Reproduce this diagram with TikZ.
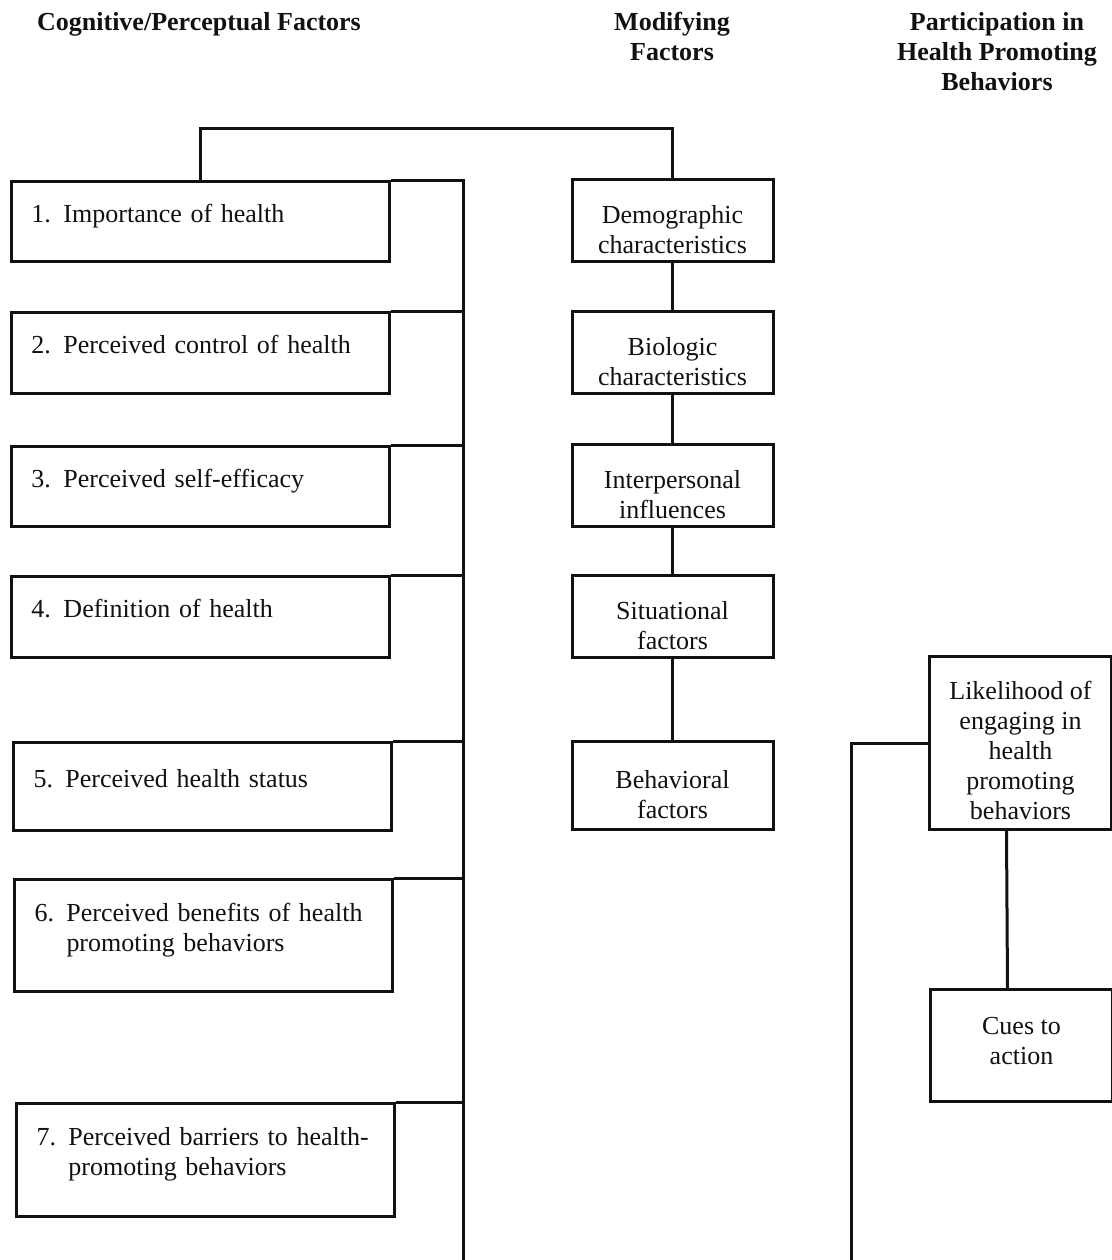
\documentclass[tikz,border=0pt]{standalone}
\usepackage{fontspec}
\setmainfont{Liberation Serif}
\usetikzlibrary{positioning, calc}
\definecolor{ink}{HTML}{111111}
\tikzset{
  every node/.style = {font=\fontsize{13}{15}\selectfont, text=ink},
  hpbase/.style  = {draw=ink, line width=1.5pt, fill=white, inner ysep=0pt},
  hpcog/.style   = {hpbase, anchor=north west, minimum width=189pt, text width=169pt,
                    inner xsep=10pt, align=left},
  hpmod/.style   = {hpbase, anchor=north, minimum width=100.5pt, minimum height=41pt,
                    inner xsep=0pt, align=center},
  hpout/.style   = {hpbase, anchor=north west, minimum width=91pt, inner xsep=0pt, align=center},
  hphead/.style  = {font=\fontsize{13}{15}\selectfont\bfseries, anchor=north, align=center,
                    inner sep=0pt},
  hplink/.style  = {draw=ink, line width=1.5pt},
}
\newcommand{\hpnum}[2]{\makebox[16pt][l]{#1.}\begin{tabular}[t]{@{}l@{}}#2\rule[-10pt]{0pt}{0pt}\end{tabular}}
\newcommand{\hptop}{\rule{0pt}{18pt}}

\begin{document}
\begin{tikzpicture}[x=0.5pt, y=-0.5pt]
\useasboundingbox (0,0) rectangle (1112,1260);

\node[hphead] (hcog) at (199,12) {Cognitive/Perceptual Factors};
\node[hphead] (hmod) at (672,12) {Modifying\\Factors};
\node[hphead] (hout) at (997,12) {Participation in\\Health Promoting\\Behaviors};

% cognitive / perceptual factors
\node[hpcog, minimum height=40pt]   (f1) at (10,180)  {\hpnum{1}{Importance of health}};
\node[hpcog, minimum height=40.5pt] (f2) at (10,311)  {\hpnum{2}{Perceived control of health}};
\node[hpcog, minimum height=40pt]   (f3) at (10,445)  {\hpnum{3}{Perceived self-efficacy}};
\node[hpcog, minimum height=40.5pt] (f4) at (10,575)  {\hpnum{4}{Definition of health}};
\node[hpcog, minimum height=44pt]   (f5) at (12,741)  {\hpnum{5}{Perceived health status}};
\node[hpcog, minimum height=56pt]   (f6) at (13,878)  {\hpnum{6}{Perceived benefits of health\\promoting behaviors}};
\node[hpcog, minimum height=56.5pt] (f7) at (15,1102) {\hpnum{7}{Perceived barriers to health-\\promoting behaviors}};

% modifying factors
\node[hpmod] (demog) at (672.5,178) {\hptop Demographic\\characteristics};
\node[hpmod] (bio)   at (672.5,310) {\hptop Biologic\\characteristics};
\node[hpmod] (inter) at (672.5,443) {\hptop Interpersonal\\influences};
\node[hpmod] (situ)  at (672.5,574) {\hptop Situational\\factors};
\node[hpmod, minimum height=44pt] (behav) at (672.5,740) {\hptop Behavioral\\factors};

% participation
\node[hpout, minimum height=86.5pt] (likely) at (928,655)
  {\rule{0pt}{17pt}Likelihood of\\engaging in\\health\\promoting\\behaviors};
\node[hpout, minimum height=56pt] (cues) at (929,988) {Cues to\\action\rule[-5pt]{0pt}{0pt}};

\coordinate (spine) at (463,1260);
\coordinate (bridge) at (0,128);
\coordinate (rspine) at (851,1260);

\draw[hplink] (f1.north east) -| (spine);
\foreach \f in {f2,f3,f4,f5,f6,f7}
  \draw[hplink] (\f.north east) -- (\f.north east -| spine);
\draw[hplink] (f1.north) |- (bridge -| demog) -- (demog.north);

\draw[hplink] (demog) -- (bio);
\draw[hplink] (bio) -- (inter);
\draw[hplink] (inter) -- (situ);
\draw[hplink] (situ) -- (behav);

\draw[hplink] (likely.west) -| (rspine);
\draw[hplink] ([xshift=-7pt]likely.south) -- ([xshift=-7pt]cues.north);
\end{tikzpicture}
\end{document}
